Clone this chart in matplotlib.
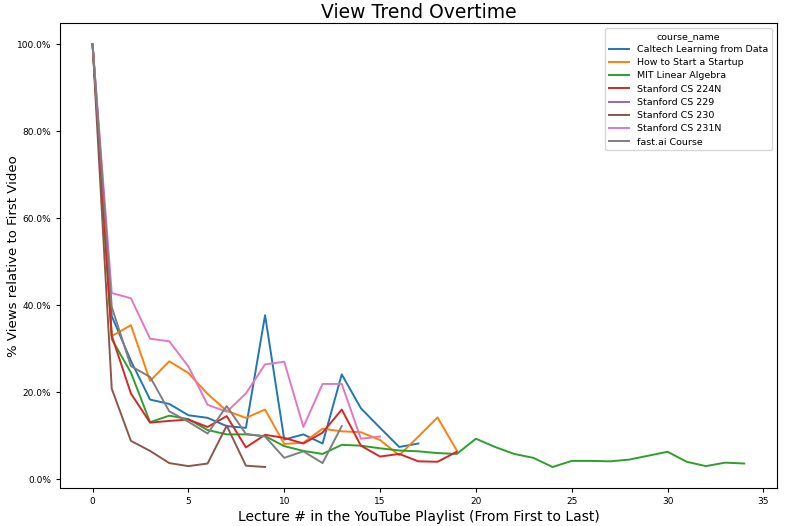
import matplotlib
matplotlib.use("Agg")
import matplotlib.pyplot as plt
from matplotlib.ticker import PercentFormatter

# % views of each lecture relative to the first video
caltech = [100, 37.5, 27.2, 18.3, 17.3, 14.7, 14.1, 12.2, 11.8, 37.7, 9.1, 10.3, 8.2, 24.1, 16.3, 11.8, 7.4, 8.2]
startup = [100, 32.9, 35.4, 22.6, 27.1, 24.4, 19.6, 15.7, 14.1, 16.0, 8.1, 8.4, 11.6, 11.0, 10.8, 9.0, 5.5, 9.8, 14.2, 6.6]
mit_linalg = [100, 32.2, 24.5, 13.1, 14.6, 13.8, 11.3, 10.3, 10.3, 9.9, 7.6, 6.5, 5.8, 7.9, 7.7, 7.1, 6.6, 6.4, 6.0,
              5.8, 9.3, 7.4, 5.8, 4.9, 2.8, 4.2, 4.2, 4.1, 4.5, 5.4, 6.3, 4.0, 3.0, 3.8, 3.6]
cs224n = [100, 33.0, 19.7, 13.0, 13.4, 13.7, 12.0, 14.5, 7.3, 10.2, 9.5, 8.2, 10.7, 16.0, 7.7, 5.2, 5.8, 4.1, 4.0, 6.3]
cs229 = [100]
cs230 = [100, 20.8, 8.8, 6.5, 3.7, 3.0, 3.6, 12.3, 3.1, 2.8]
cs231n = [100, 42.8, 41.6, 32.3, 31.7, 25.9, 17.1, 15.5, 19.7, 26.4, 27.0, 12.0, 21.9, 21.9, 9.3, 9.8]
fastai = [100, 39.6, 26.0, 23.5, 15.6, 13.2, 10.5, 16.8, 10.4, 9.8, 4.9, 6.4, 3.7, 12.2]

course_names = ["Caltech Learning from Data", "How to Start a Startup", "MIT Linear Algebra",
                "Stanford CS 224N", "Stanford CS 229", "Stanford CS 230", "Stanford CS 231N", "fast.ai Course"]
series = [caltech, startup, mit_linalg, cs224n, cs229, cs230, cs231n, fastai]
colors = plt.get_cmap("tab10").colors

fig, ax = plt.subplots(figsize=(8, 5.26), dpi=100)
fig.subplots_adjust(left=0.075, right=0.971, bottom=0.072, top=0.956)

for name, vals, c in zip(course_names, series, colors):
    ax.plot(range(len(vals)), vals, color=c, linewidth=1.4, label=name)

ax.yaxis.set_major_formatter(PercentFormatter(xmax=100, decimals=1))
ax.set_xticks([0, 5, 10, 15, 20, 25, 30, 35])
ax.set_yticks([0, 20, 40, 60, 80, 100])
ax.tick_params(labelsize=6.5, length=3)

ax.set_title("View Trend Overtime", fontsize=13.5, pad=4)
ax.set_xlabel("Lecture # in the YouTube Playlist (From First to Last)", fontsize=10, labelpad=3)
ax.set_ylabel("% Views relative to First Video", fontsize=9.5)
ax.yaxis.set_label_coords(-0.056, 0.5)

leg = ax.legend(title="course_name", fontsize=6.8, title_fontsize=6.8, loc="upper right",
                handlelength=2.2, labelspacing=0.45)

plt.savefig("out.png", dpi=100)
